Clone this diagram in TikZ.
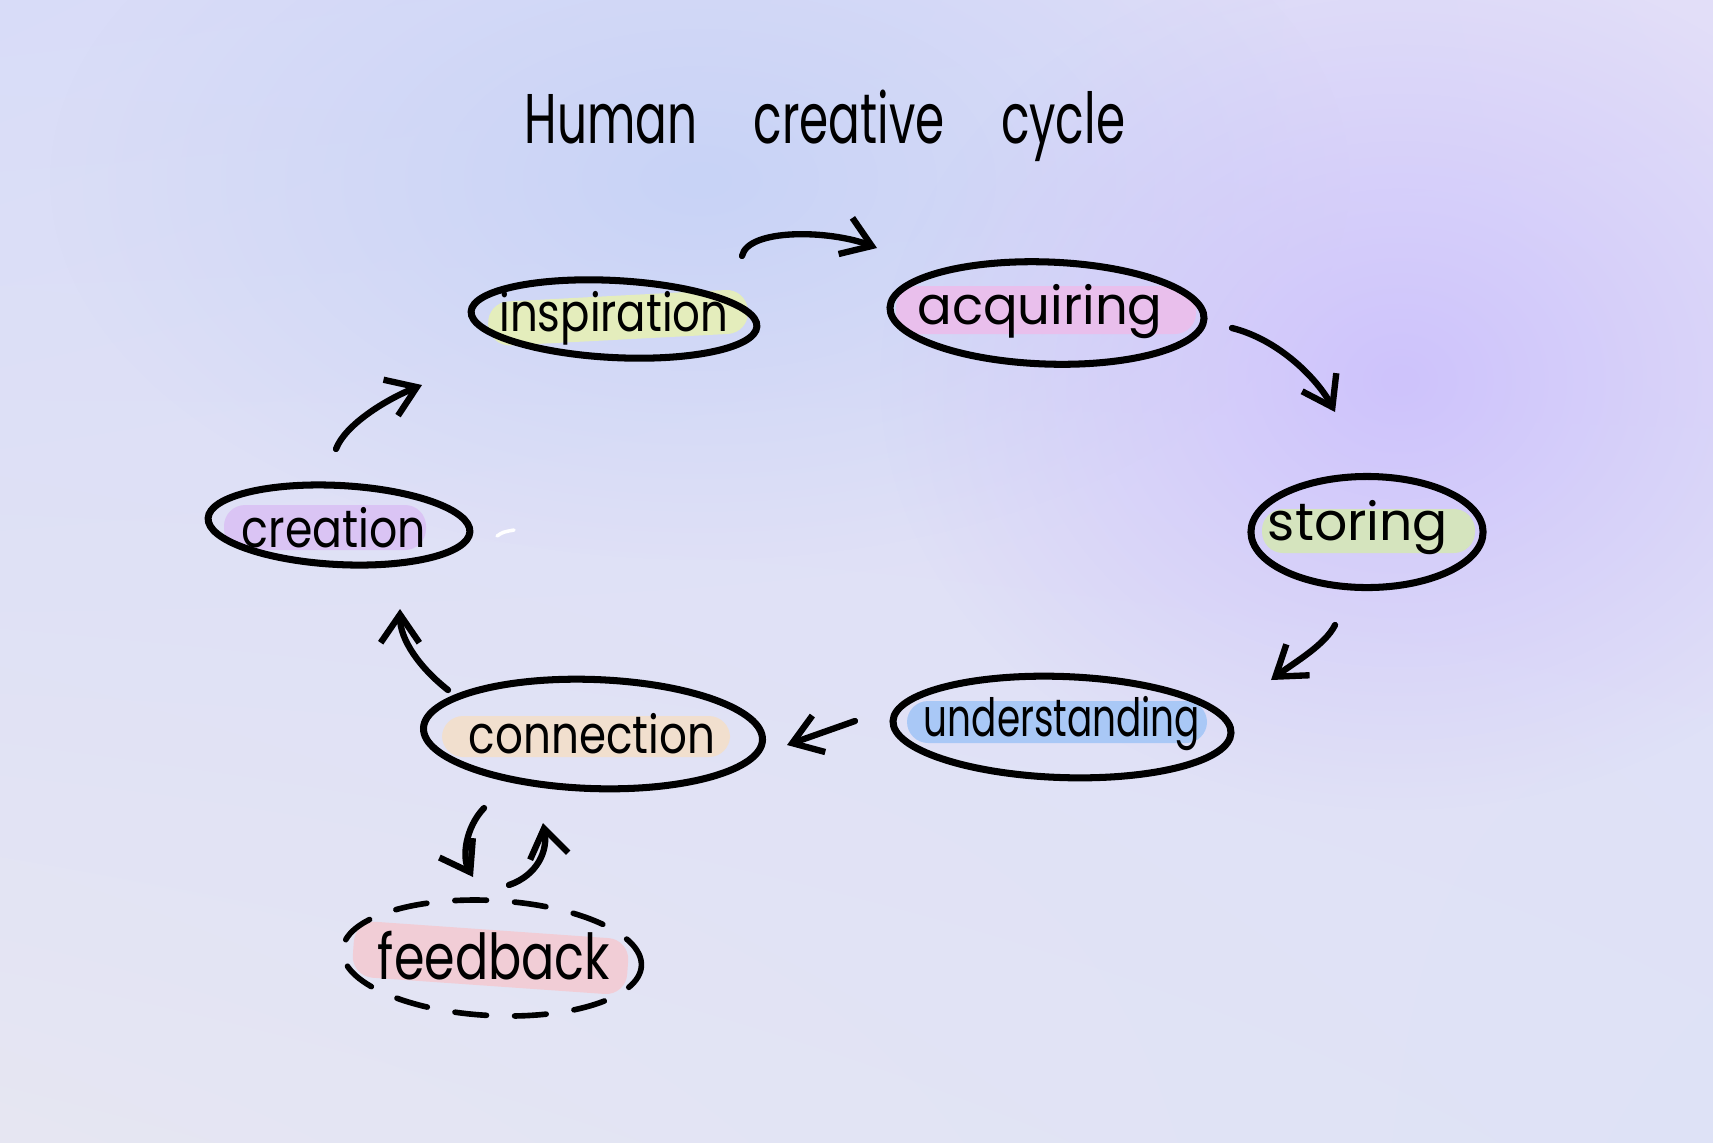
\documentclass[tikz,border=0pt]{standalone}
\usepackage{fontspec}
\setmainfont{Poppins}
\usetikzlibrary{shapes.geometric,arrows.meta,fadings,shadings}
\tikzfading[name=glowfade, inner color=transparent!0, outer color=transparent!100]
\definecolor{bgA}{HTML}{D8DCF8}
\definecolor{bgB}{HTML}{E2DEF8}
\definecolor{bgC}{HTML}{E6E6F2}
\definecolor{bgD}{HTML}{DEE2F6}
\definecolor{glowP}{HTML}{CEC3FC}
\definecolor{glowB}{HTML}{C8D3F6}
\definecolor{hlYel}{HTML}{E4EDBC}
\definecolor{hlPink}{HTML}{E9BFEC}
\definecolor{hlGreen}{HTML}{D5E4BE}
\definecolor{hlBlue}{HTML}{A9C8F6}
\definecolor{hlPeach}{HTML}{F1DFCE}
\definecolor{hlLav}{HTML}{DAC4F4}
\definecolor{hlRose}{HTML}{F1CDD6}
\newcommand{\hw}[2]{\resizebox{#1}{\height}{#2}}
\tikzset{
  x=0.01cm, y=-0.01cm,
  oval/.style={ellipse, draw=black, line width=2pt, inner sep=0pt},
  dashoval/.style={ellipse, draw=black, line width=1.6pt, inner sep=0pt, dash pattern=on 9pt off 8pt, line cap=round},
  hl/.style={rounded corners=6pt},
  lbl/.style={font=\fontsize{15}{17}\selectfont, text=black, inner sep=0pt},
  arr/.style={line width=1.8pt, line cap=round, line join=round, -{Straight Barb[length=8pt,width=11pt]}},
}
\begin{document}
\begin{tikzpicture}
\useasboundingbox (0,0) rectangle (1713,1142);
% background
\shade[upper left=bgA, upper right=bgB, lower left=bgC, lower right=bgD] (0,0) rectangle (1713,1142);
\fill[glowB, path fading=glowfade] (700,180) ellipse (650 and 380);
\fill[glowP, path fading=glowfade] (1400,380) ellipse (520 and 430);
% title
\node[font=\fontsize{20}{22}\selectfont, inner sep=0pt] (title) at (825,126) {\hw{6.0cm}{Human\hspace{1.2em}creative\hspace{1.2em}cycle}};
% highlights
\fill[hlYel, hl, rotate around={3:(612,317)}] (488,296) rectangle (748,340);
\fill[hlPink, hl] (896,286) rectangle (1196,334);
\fill[hlGreen, hl] (1262,509) rectangle (1475,553);
\fill[hlBlue, hl] (907,701) rectangle (1207,743);
\fill[hlPeach, hl] (442,716) rectangle (730,757);
\fill[hlLav, hl] (224,505) rectangle (426,550);
\fill[hlRose, hl, rotate around={-4:(492,958)}] (353,930) rectangle (628,986);
% ovals
\node[oval, minimum width=2.86cm, minimum height=0.77cm, rotate=-3] (insp) at (614,319) {};
\node[oval, minimum width=3.14cm, minimum height=1.02cm, rotate=-2] (acq) at (1047,313) {};
\node[oval, minimum width=2.32cm, minimum height=1.11cm] (stor) at (1367,532) {};
\node[oval, minimum width=3.38cm, minimum height=1.01cm, rotate=-2] (und) at (1062,727) {};
\node[oval, minimum width=3.39cm, minimum height=1.09cm, rotate=-2] (conn) at (593,734) {};
\node[oval, minimum width=2.62cm, minimum height=0.79cm, rotate=-3] (crea) at (339,525) {};
\node[dashoval, minimum width=2.99cm, minimum height=1.15cm, rotate=-3] (feed) at (492,958) {};
% labels
\node[lbl] (tInsp) at (614,318) {\hw{2.29cm}{inspiration}};
\node[lbl] (tAcq) at (1040,312) {\hw{2.45cm}{acquiring}};
\node[lbl] (tStor) at (1358,528) {\hw{1.8cm}{storing}};
\node[lbl] (tUnd) at (1062,724) {\hw{2.76cm}{understanding}};
\node[lbl] (tConn) at (592,734) {\hw{2.46cm}{connection}};
\node[lbl] (tCrea) at (334,528) {\hw{1.84cm}{creation}};
\node[lbl, font=\fontsize{18}{20}\selectfont] (tFeed) at (494,956) {\hw{2.32cm}{feedback}};
% stray white mark
\draw[white, line width=1pt, line cap=round] (497,536) .. controls (503,532) .. (514,530);
% connector end points
\coordinate (a1s) at (742,256); \coordinate (a1e) at (877,248);
\coordinate (a2s) at (1232,328); \coordinate (a2e) at (1335,412);
\coordinate (a3s) at (1335,625); \coordinate (a3e) at (1271,680);
\coordinate (a4s) at (855,721); \coordinate (a4e) at (787,745);
\coordinate (a5s) at (448,690); \coordinate (a5e) at (400,609);
\coordinate (a6s) at (336,449); \coordinate (a6e) at (422,385);
\coordinate (a7s) at (484,808); \coordinate (a7e) at (473,877);
\coordinate (a8s) at (509,885); \coordinate (a8e) at (543,823);
% connectors
\draw[arr] (a1s) .. controls (748,228) and (830,230) .. (a1e);
\draw[arr] (a2s) .. controls (1280,340) and (1318,380) .. (a2e);
\draw[arr] (a3s) .. controls (1325,645) and (1295,662) .. (a3e);
\draw[arr] (a4s) -- (a4e);
\draw[arr] (a5s) .. controls (420,668) and (400,640) .. (a5e);
\draw[arr] (a6s) .. controls (345,425) and (385,400) .. (a6e);
\draw[arr] (a7s) .. controls (465,828) and (462,858) .. (a7e);
\draw[arr] (a8s) .. controls (538,875) and (548,850) .. (a8e);
\end{tikzpicture}
\end{document}
